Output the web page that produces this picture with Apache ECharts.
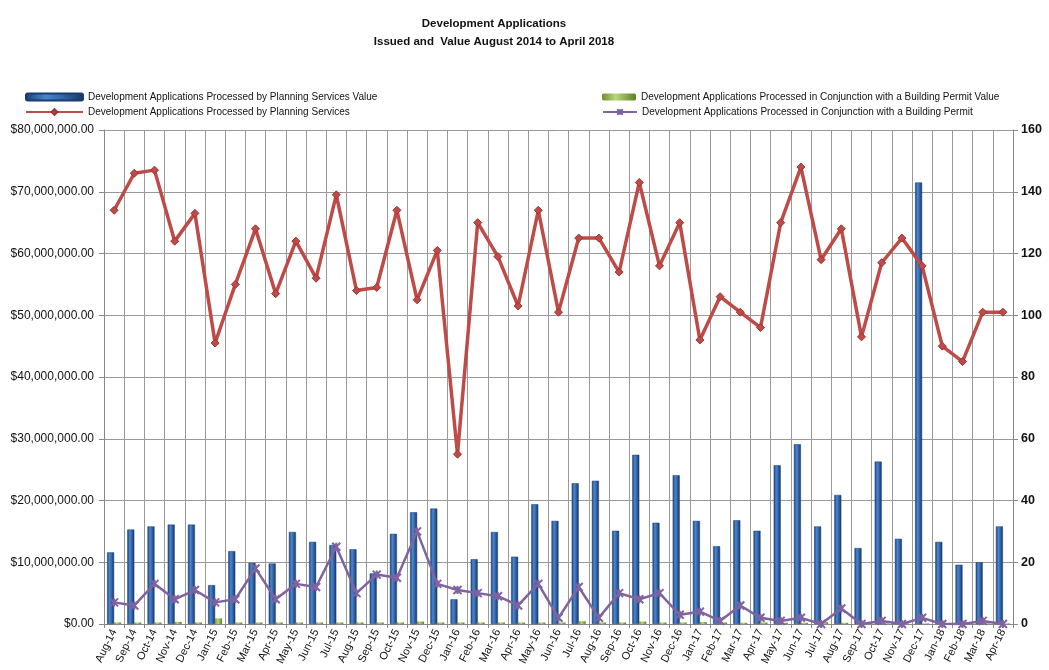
<!DOCTYPE html>
<html>
<head>
<meta charset="utf-8">
<script src="https://cdn.jsdelivr.net/npm/echarts@6/dist/echarts.min.js"></script>
<style>html,body{margin:0;padding:0;background:#fff}#c{width:1049px;height:670px}</style>
</head>
<body>
<div id="c"></div>
<script>
const categories = ['Aug-14','Sep-14','Oct-14','Nov-14','Dec-14','Jan-15','Feb-15','Mar-15','Apr-15','May-15','Jun-15','Jul-15','Aug-15','Sep-15','Oct-15','Nov-15','Dec-15','Jan-16','Feb-16','Mar-16','Apr-16','May-16','Jun-16','Jul-16','Aug-16','Sep-16','Oct-16','Nov-16','Dec-16','Jan-17','Feb-17','Mar-17','Apr-17','May-17','Jun-17','Jul-17','Aug-17','Sep-17','Oct-17','Nov-17','Dec-17','Jan-18','Feb-18','Mar-18','Apr-18'];
const planningValue = [11600000,15300000,15800000,16100000,16100000,6300000,11800000,9900000,9800000,14900000,13300000,12800000,12100000,8200000,14600000,18100000,18700000,4000000,10500000,14900000,10900000,19400000,16700000,22800000,23200000,15100000,27400000,16400000,24100000,16700000,12600000,16800000,15100000,25700000,29100000,15800000,20900000,12300000,26300000,13800000,71500000,13300000,9600000,10000000,15800000];
const permitValue = [250000,250000,250000,350000,250000,900000,250000,250000,250000,250000,250000,250000,250000,250000,250000,400000,250000,250000,250000,250000,250000,250000,250000,450000,250000,250000,400000,250000,250000,300000,250000,200000,250000,200000,200000,300000,200000,100000,100000,100000,100000,100000,100000,100000,100000];
const planningCount = [134,146,147,124,133,91,110,128,107,124,112,139,108,109,134,105,121,55,130,119,103,134,101,125,125,114,143,116,130,92,106,101,96,130,148,118,128,93,117,125,116,90,85,101,101];
const permitCount = [7,6,13,8,11,7,8,18,8,13,12,25,10,16,15,30,13,11,10,9,6,13,2,12,2,10,8,10,3,4,1,6,2,1,2,0,5,0,1,0,2,0,0,1,0];
const leftTicks = [0,10000000,20000000,30000000,40000000,50000000,60000000,70000000,80000000];
const rightTicks = [0,20,40,60,80,100,120,140,160];

const FONT = '"Liberation Sans", Arial, sans-serif';
const chart = echarts.init(document.getElementById('c'));
const money = v => '$' + Number(v).toLocaleString('en-US',{minimumFractionDigits:2,maximumFractionDigits:2});
const xPath = 'path://M0,0 L10,10 M10,0 L0,10 M5,0 L5,10';

const blueGrad = new echarts.graphic.LinearGradient(0,0,1,0,[
  {offset:0,color:'#1c3f73'},{offset:0.35,color:'#4a86cf'},{offset:0.55,color:'#3a70b8'},{offset:1,color:'#163563'}]);
const greenGrad = new echarts.graphic.LinearGradient(0,0,1,0,[
  {offset:0,color:'#6f8f2e'},{offset:0.4,color:'#b9d77a'},{offset:1,color:'#5f7f26'}]);

const legendText = {fontFamily: FONT, fontSize: 10, color: '#111'};
chart.setOption({
  backgroundColor:'#fff',
  animation:false,
  title:{
    text:'Development Applications\nIssued and  Value August 2014 to April 2018',
    left:489, top:10, textAlign:'center',
    textStyle:{fontFamily:FONT,fontSize:11.5,fontWeight:'bold',color:'#111',lineHeight:18}
  },
  legend:[
    {data:['Development Applications Processed by Planning Services Value'],left:20,top:87,itemWidth:57,itemHeight:7,textStyle:legendText},
    {data:['Development Applications Processed by Planning Services'],left:20,top:102,itemWidth:57,itemHeight:7,textStyle:legendText},
    {data:['Development Applications Processed in Conjunction with a Building Permit Value'],left:597,top:87,itemWidth:34,itemHeight:7,textStyle:legendText},
    {data:['Development Applications Processed in Conjunction with a Building Permit'],left:597,top:102,itemWidth:34,itemHeight:7,textStyle:legendText}
  ],
  grid:{left:104,right:36,top:130,bottom:46},
  xAxis:{
    type:'category', data:categories, boundaryGap:true,
    axisLine:{lineStyle:{color:'#888',width:1}},
    axisTick:{show:true,alignWithLabel:false,lineStyle:{color:'#888'},length:4},
    splitLine:{show:true,lineStyle:{color:'#999',width:1}},
    axisLabel:{rotate:64,interval:0,fontFamily:FONT,fontSize:11,color:'#111',margin:6}
  },
  yAxis:[
    {type:'value',min:0,max:80000000,interval:10000000,
     axisLine:{show:true,lineStyle:{color:'#888'}},axisTick:{show:true,length:5,lineStyle:{color:'#888'}},
     splitLine:{show:true,lineStyle:{color:'#999',width:1}},
     axisLabel:{formatter:money,fontFamily:FONT,fontSize:12,color:'#111',margin:10}},
    {type:'value',min:0,max:160,interval:20,position:'right',
     axisLine:{show:true,lineStyle:{color:'#888'}},axisTick:{show:true,length:5,lineStyle:{color:'#888'}},
     splitLine:{show:false},
     axisLabel:{fontFamily:FONT,fontSize:12.5,fontWeight:'bold',color:'#111',margin:8}}
  ],
  series:[
    {name:'Development Applications Processed by Planning Services Value',type:'bar',yAxisIndex:0,data:planningValue,
     barWidth:7,barGap:'0%',itemStyle:{color:blueGrad,borderColor:'#1a3c6e',borderWidth:0.5},
     emphasis:{disabled:true}},
    {name:'Development Applications Processed in Conjunction with a Building Permit Value',type:'bar',yAxisIndex:0,data:permitValue,
     barWidth:7,barGap:'0%',itemStyle:{color:greenGrad},emphasis:{disabled:true}},
    {name:'Development Applications Processed by Planning Services',type:'line',yAxisIndex:1,data:planningCount,
     lineStyle:{color:'#be4b48',width:3.5},itemStyle:{color:'#be4b48',borderColor:'#9e3331',borderWidth:1},
     symbol:'diamond',symbolSize:8,z:5},
    {name:'Development Applications Processed in Conjunction with a Building Permit',type:'line',yAxisIndex:1,data:permitCount,
     lineStyle:{color:'#7f63a1',width:2.5},itemStyle:{color:'#7f63a1',borderColor:'#7f63a1',borderWidth:2},
     symbol:xPath,symbolSize:8,z:6}
  ]
});
</script>
</body>
</html>
